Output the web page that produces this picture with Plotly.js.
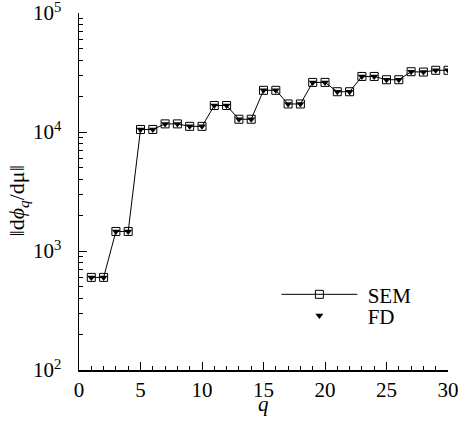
<!DOCTYPE html>
<html>
<head>
<meta charset="utf-8">
<script src="https://cdn.plot.ly/plotly-3.0.1.min.js"></script>
<style>
  html, body { margin: 0; padding: 0; background: #fff; }
  #chart { width: 458px; height: 422px; }
</style>
</head>
<body>
<div id="chart"></div>
<script>
// Sensitivity norm of each mode q: spectral-element result vs finite differences
const q = [1, 2, 3, 4, 5, 6, 7, 8, 9, 10, 11, 12, 13, 14, 15,
           16, 17, 18, 19, 20, 21, 22, 23, 24, 25, 26, 27, 28, 29, 30];
const semValues = [600, 600, 1460, 1460, 10500, 10500, 11700, 11700, 11150, 11150,
                   16700, 16700, 12800, 12800, 22400, 22400, 17200, 17200, 26100, 26100,
                   21800, 21800, 29300, 29300, 27500, 27500, 32100, 31900, 33000, 33000];
const fdValues = [600, 600, 1460, 1460, 10500, 10500, 11700, 11700, 11150, 11150,
                  16700, 16700, 12800, 12800, 22400, 22400, 17200, 17200, 26100, 26100,
                  21800, 21800, 29300, 29300, 27500, 27500, 32100, 31900, 33000, 33000];
const seriesNames = ['SEM', 'FD'];
const yTickVals = [100, 1000, 10000, 100000];
const yTickText = ['10<sup>2</sup>', '10<sup>3</sup>', '10<sup>4</sup>', '10<sup>5</sup>'];

// minor ticks at 2..9 of every decade between 10^2 and 10^5
const minorY = [];
for (let e = 2; e < 5; e++) {
  for (let m = 2; m <= 9; m++) minorY.push(m * Math.pow(10, e));
}

const serif = 'Liberation Serif, Times New Roman, serif';
const fs = 21;

const traces = [
  {
    x: q, y: semValues, name: '\u00a0' + seriesNames[0],
    type: 'scatter', mode: 'lines+markers',
    line: { color: '#000', width: 1 },
    marker: { symbol: 'square-open', size: 8, color: '#000', line: { width: 1, color: '#000' } },
    legend: 'legend'
  },
  {
    x: q, y: fdValues, name: '\u00a0' + seriesNames[1],
    type: 'scatter', mode: 'markers',
    marker: { symbol: 'triangle-down', size: 7, color: '#000' },
    legend: 'legend2'
  }
];

const legendBase = {
  xanchor: 'left', yanchor: 'middle',
  bgcolor: 'rgba(0,0,0,0)',
  itemwidth: 76,
  font: { family: serif, size: fs, color: '#000' }
};

const layout = {
  width: 458, height: 422,
  margin: { l: 78.5, r: 9.7, t: 13.3, b: 52 },
  paper_bgcolor: '#fff', plot_bgcolor: '#fff',
  font: { family: serif, size: fs, color: '#000' },
  showlegend: true,
  legend: Object.assign({ x: 0.535, y: 0.211 }, legendBase),
  legend2: Object.assign({ x: 0.535, y: 0.152 }, legendBase),
  xaxis: {
    range: [0, 30],
    tickmode: 'linear', tick0: 0, dtick: 5,
    ticks: 'inside', ticklen: 8, tickwidth: 1, tickcolor: '#000',
    ticklabeloverflow: 'allow',
    minor: { dtick: 1, ticks: 'inside', ticklen: 4, tickwidth: 1, tickcolor: '#000' },
    showline: true, linecolor: '#000', linewidth: 1.5,
    showgrid: false, zeroline: false,
    tickfont: { family: serif, size: fs, color: '#000' }
  },
  yaxis: {
    type: 'log', range: [2, 5],
    tickmode: 'array', tickvals: yTickVals, ticktext: yTickText,
    ticks: 'inside', ticklen: 8, tickwidth: 1, tickcolor: '#000',
    ticklabelstandoff: 12,
    ticklabeloverflow: 'allow',
    minor: { tickvals: minorY, ticks: 'inside', ticklen: 4, tickwidth: 1, tickcolor: '#000' },
    showline: true, linecolor: '#000', linewidth: 1.5,
    showgrid: false, zeroline: false,
    tickfont: { family: serif, size: fs, color: '#000' }
  },
  annotations: [
    {
      text: '<i>q</i>', xref: 'paper', yref: 'paper',
      x: 0.5, y: -0.095, xanchor: 'center', yanchor: 'middle',
      showarrow: false, font: { family: serif, size: fs, color: '#000' }
    },
    {
      text: '‖d<i>ϕ</i><sub><i>q</i></sub>/dμ‖', xref: 'paper', yref: 'paper',
      x: -0.166, y: 0.474, xanchor: 'center', yanchor: 'middle', textangle: -90,
      showarrow: false, font: { family: serif, size: 22, color: '#000' }
    }
  ]
};

Plotly.newPlot('chart', traces, layout, { displayModeBar: false, staticPlot: true });
</script>
</body>
</html>
